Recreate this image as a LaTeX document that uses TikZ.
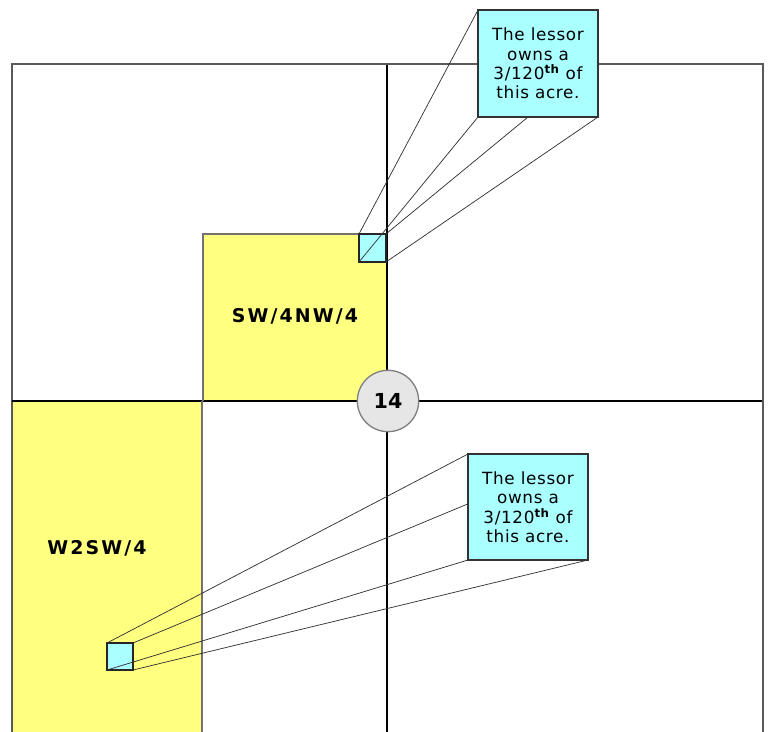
\documentclass[tikz,border=0pt]{standalone}
\usepackage{fontspec}
\setmainfont{DejaVu Sans}
\newfontfamily\tractfont[LetterSpace=11]{DejaVu Sans}
\newfontfamily\calloutfont[LetterSpace=4]{DejaVu Sans}
\usetikzlibrary{fit,calc}
\definecolor{plotyellow}{RGB}{255,255,128}
\definecolor{zoomcyan}{RGB}{170,255,255}
\definecolor{markgray}{RGB}{230,230,230}
\begin{document}
\begin{tikzpicture}[x=0.75pt,y=-0.75pt,
  tract/.style={fill=plotyellow, draw=none, inner sep=0pt, outer sep=0pt},
  zoomsq/.style={fill=zoomcyan, draw=black!85, line width=0.9pt, inner sep=0pt, outer sep=0pt},
  zoombox/.style={fill=zoomcyan, draw=black!80, line width=0.8pt},
  holder/.style={inner sep=0pt, outer sep=0pt},
  ray/.style={draw=black!80, line width=0.55pt},
  gridline/.style={draw=black, line width=0.9pt},
  thinedge/.style={draw=black!55, line width=0.8pt},
  thickedge/.style={draw=black, line width=1.6pt},
  tractlabel/.style={font=\tractfont\bfseries\fontsize{14.2}{16}\selectfont, inner sep=0pt},
  calltext/.style={align=center, font=\calloutfont\fontsize{12.6}{14.6}\selectfont, inner sep=0pt},
  secmark/.style={circle, fill=markgray, draw=black!50, line width=1pt, minimum size=46pt,
    inner sep=0pt, font=\bfseries\fontsize{15.5}{17}\selectfont},
]
\useasboundingbox (0,0) rectangle (769,732);
\clip (0,0) rectangle (769,732);
\fill[white] (0,0) rectangle (769,732);

% tracts
\node[tract, fit={(203,234) (387,401)}] (nw) {};
\node[tract, fit={(12,401) (202,745)}] (w2) {};

% section grid and outer frame
\draw[gridline] (387,64) -- (387,745);
\draw[gridline] (12,401) -- (763,401);
\draw[draw=black!65, line width=1.3pt] (12,745) -- (12,64) -- (763,64) -- (763,745);

% tract borders
\draw[thinedge] (nw.south west) -- (nw.north west) -- (nw.north east);
\draw[thickedge] (nw.north east) -- (nw.south east);
\draw[thickedge] (w2.north west) -- (w2.north east);
\draw[thinedge] (w2.north east) -- (w2.south east);

% tract labels
\node[tractlabel] (nwlabel) at (295,316) {SW/4NW/4};
\node[tractlabel] (w2label) at (97,548) {W2SW/4};

% section number
\node[secmark] (sec) at (388,401) {14};

% small acre squares
\node[zoomsq, fit={(359,234) (386,262)}] (sqA) {};
\node[zoomsq, fit={(107,643) (133,670)}] (sqB) {};

% callout frames (positions only)
\node[holder, fit={(478,10) (598,117)}] (boxA) {};
\node[holder, fit={(468,454) (588,560)}] (boxB) {};

% rays from the squares to the callouts
\draw[ray] (sqA.north west) -- (boxA.north west);
\draw[ray] (sqA.north east) -- ($(boxA.south west)!0.417!(boxA.south east)$);
\draw[ray] (sqA.south west) -- (boxA.south west);
\draw[ray] (sqA.south east) -- (boxA.south east);

\draw[ray] (sqB.north west) -- (boxB.north west);
\draw[ray] (sqB.north east) -- (boxB.north east);
\draw[ray] (sqB.south west) -- (boxB.south west);
\draw[ray] (sqB.south east) -- (boxB.south east);

% callout boxes with text
\draw[zoombox] (boxA.north west) rectangle (boxA.south east);
\draw[zoombox] (boxB.north west) rectangle (boxB.south east);
\node[calltext] (textA) at (boxA.center) {The lessor\\owns a\\3/120\textsuperscript{\bfseries th} of\\this acre.};
\node[calltext] (textB) at (boxB.center) {The lessor\\owns a\\3/120\textsuperscript{\bfseries th} of\\this acre.};
\end{tikzpicture}
\end{document}
